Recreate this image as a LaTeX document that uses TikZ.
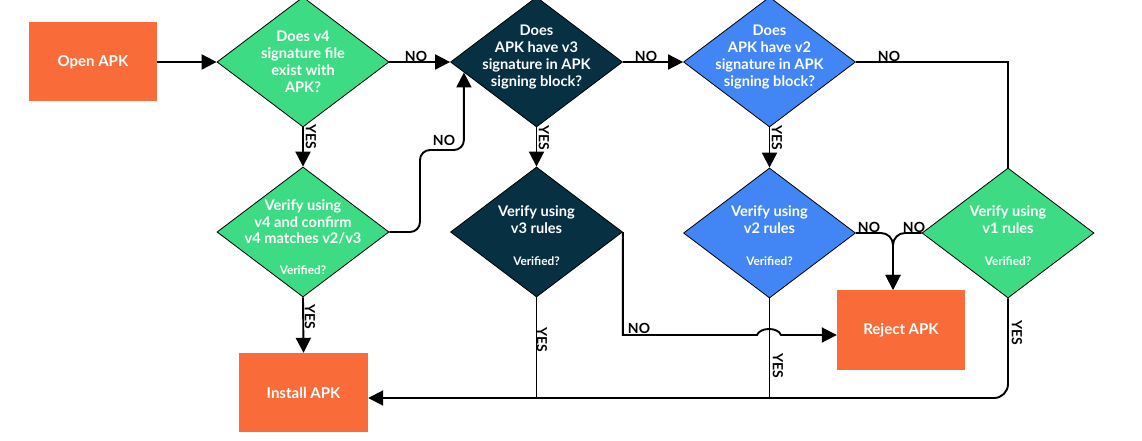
\documentclass[tikz,border=0pt]{standalone}
\usepackage{fontspec}
\setmainfont{Lato}
\usetikzlibrary{shapes.geometric,arrows.meta,calc}
\definecolor{apkorange}{HTML}{F96B38}
\definecolor{apkgreen}{HTML}{3DDC84}
\definecolor{apknavy}{HTML}{073042}
\definecolor{apkblue}{HTML}{4285F4}
\begin{document}
\begin{tikzpicture}[x=1pt,y=-1pt,
  box/.style={fill=apkorange, minimum width=128pt, minimum height=79pt, inner sep=0pt,
    text=white, font=\bfseries\fontsize{15}{18}\selectfont},
  dia/.style={diamond, draw=black, line width=0.8pt, minimum width=172pt, minimum height=130pt, inner sep=0pt},
  dtext/.style={text=white, align=center, inner sep=0pt, font=\bfseries\fontsize{14.6}{16.9}\selectfont},
  vtext/.style={text=white, inner sep=0pt, font=\bfseries\fontsize{11.8}{13}\selectfont},
  lab/.style={inner sep=0pt, font=\bfseries\fontsize{14}{16}\selectfont},
  ylab/.style={lab, rotate=-90},
  wire/.style={line width=1.9pt},
  conn/.style={wire, -{Triangle[length=15pt,width=15pt]}}
]
\useasboundingbox (0,0) rectangle (1142,441);
\fill[white] (0,0) rectangle (1142,441);

% boxes
\node[box] (open) at (93,62) {Open APK};
\node[box, minimum width=129pt] (install) at (303.5,392.5) {Install APK};
\node[box, minimum height=80pt] (reject) at (901,330) {Reject APK};

% diamonds
\node[dia, fill=apkgreen] (d1) at (303,62) {};
\node[dia, fill=apknavy] (d2) at (536.5,62) {};
\node[dia, fill=apkblue] (d3) at (769.5,62) {};
\node[dia, fill=apkgreen] (d4) at (303,232) {};
\node[dia, fill=apknavy] (d5) at (536.5,232) {};
\node[dia, fill=apkblue] (d6) at (769.5,233) {};
\node[dia, fill=apkgreen] (d7) at (1008,233) {};

% diamond texts
\node[dtext] (t1) at (303,62) {Does v4\\signature file\\exist with\\APK?};
\node[dtext] (t2) at (536.5,57) {Does\\APK have v3\\signature in APK\\signing block?};
\node[dtext] (t3) at (769.5,57) {Does\\APK have v2\\signature in APK\\signing block?};
\node[dtext] (t4) at (303,222) {Verify using\\v4 and confirm\\v4 matches v2/v3};
\node[vtext] (v4) at (303,270) {Verified?};
\node[dtext] (t5) at (536.5,220) {Verify using\\v3 rules};
\node[vtext] (v5) at (536.5,261) {Verified?};
\node[dtext] (t6) at (769.5,220) {Verify using\\v2 rules};
\node[vtext] (v6) at (769.5,261) {Verified?};
\node[dtext] (t7) at (1008,220) {Verify using\\v1 rules};
\node[vtext] (v7) at (1008,261) {Verified?};

% helper coordinates
\coordinate (d2in) at ($(d2.west)!0.16!(d2.south)$);
\coordinate (k1) at (420,232);
\coordinate (k2) at (420,150);
\coordinate (k3) at (d2in |- k2);
\coordinate (rjw) at ([yshift=-5pt]reject.west);
\coordinate (j1) at (757,335);
\coordinate (j2) at (781,335);
\coordinate (rjn) at ([xshift=-8pt]reject.north);
\coordinate (insin) at ([yshift=-5.5pt]install.east);

% connectors
\draw[conn] (open.east) -- (d1.west);
\draw[conn] (d1.east) -- (d2.west);
\draw[conn] (d2.east) -- (d3.west);
\draw[wire] (d3.east) -| (d7.north);
\draw[conn] (d1.south) -- (d4.north);
\draw[conn] (d2.south) -- (d5.north);
\draw[conn] (d3.south) -- (d6.north);
\draw[conn] (d4.south) -- (install.north);
\draw[conn, rounded corners=10pt] (d4.east) -- (k1) -- (k2) -- (k3) -- (d2in);
\draw[conn] (d5.east) |- (j1) .. controls +(3,-8) and +(-3,-8) .. (j2) -- (rjw);
\draw[conn, rounded corners=12pt] (d6.east) -| (rjn);
\draw[conn, rounded corners=12pt] (d7.west) -| (rjn);
\draw[conn, rounded corners=14pt] (d7.south) |- (insin);
\draw[wire] (d5.south) -- (d5.south |- insin);
\draw[wire] (d6.south) -- (d6.south |- insin);

% labels
\node[lab] (n1) at (416,56) {NO};
\node[lab] (n2) at (646,56) {NO};
\node[lab] (n3) at (889,56) {NO};
\node[lab] (n4) at (444,140) {NO};
\node[lab] (n5) at (639,328) {NO};
\node[lab] (n6) at (869,227) {NO};
\node[lab] (n7) at (914,227) {NO};
\node[ylab] (y1) at (311,137) {YES};
\node[ylab] (y2) at (544,138) {YES};
\node[ylab] (y3) at (777,138) {YES};
\node[ylab] (y4) at (310,317) {YES};
\node[ylab] (y5) at (542,340) {YES};
\node[ylab] (y6) at (778,366) {YES};
\node[ylab] (y7) at (1017,333) {YES};
\end{tikzpicture}
\end{document}
